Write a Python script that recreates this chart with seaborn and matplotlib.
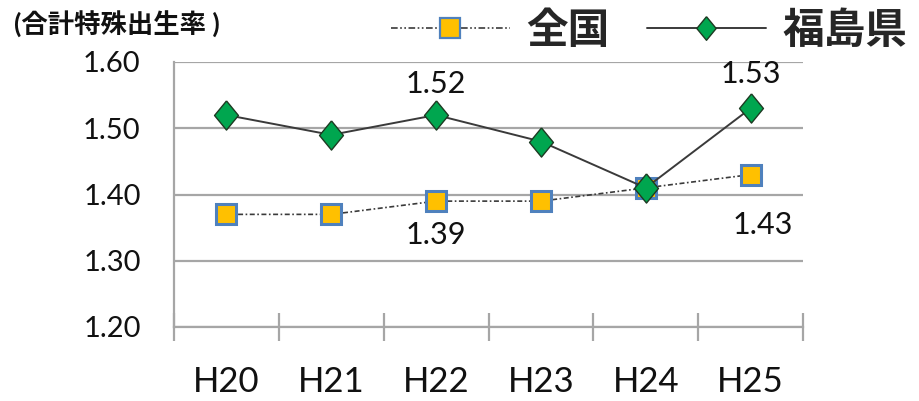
import numpy as np
import pandas as pd
import matplotlib
matplotlib.use("Agg")
import matplotlib.pyplot as plt
from matplotlib.lines import Line2D
import seaborn as sns

# Total fertility rate, national vs. Fukushima prefecture
years = ["H20", "H21", "H22", "H23", "H24", "H25"]
national = [1.37, 1.37, 1.39, 1.39, 1.41, 1.43]
fukushima = [1.52, 1.49, 1.52, 1.48, 1.41, 1.53]
y_ticks = [1.20, 1.30, 1.40, 1.50, 1.60]

sns.set_theme(style="white")
plt.rcParams["font.family"] = ["Lato", "Noto Sans CJK JP", "DejaVu Sans"]

df = pd.DataFrame({"pos": np.arange(len(years)), "year": years,
                   "全国": national, "福島県": fukushima})

fig = plt.figure(figsize=(9.19, 4.01), dpi=100)
ax = fig.add_axes([174 / 919, 1 - 327 / 401, (803 - 174) / 919, (327 - 62) / 401])

grid_c = "#a6a6a6"
line_c = "#3a3a3a"
sq_face, sq_edge = "#FFC000", "#4F81BD"
dm_face, dm_edge = "#00A64F", "#1d3a22"
diamond = [(0, 1), (0.82, 0), (0, -1), (-0.82, 0), (0, 1)]

nat_style = dict(color=line_c, linewidth=1.2, linestyle=(0, (3, 1.5, 1, 1.5)),
                 marker="s", markersize=15, markerfacecolor=sq_face,
                 markeredgecolor=sq_edge, markeredgewidth=2.2)
fk_style = dict(color=line_c, linewidth=1.4, linestyle="-",
                marker=diamond, markersize=21, markerfacecolor=dm_face,
                markeredgecolor=dm_edge, markeredgewidth=1.0)

sns.lineplot(data=df, x="pos", y="全国", ax=ax, zorder=3, clip_on=False, **nat_style)
sns.lineplot(data=df, x="pos", y="福島県", ax=ax, zorder=4, clip_on=False, **fk_style)

ax.set_xlim(-0.5, len(years) - 0.5)
ax.set_ylim(1.20, 1.60)
ax.set_yticks(y_ticks)
ax.set_yticklabels([f"{v:.2f}" for v in y_ticks], fontsize=21)
ax.set_xticks(df["pos"])
ax.set_xticklabels(years, fontsize=25)
ax.set_xticks(np.arange(-0.5, len(years)), minor=True)
ax.tick_params(axis="x", which="major", bottom=False, length=0, pad=28,
               labelcolor="#111111")
ax.tick_params(axis="x", which="minor", bottom=True, length=20, width=1.6,
               direction="inout", color=grid_c)
ax.tick_params(axis="y", length=0, pad=24, labelcolor="#111111")
ax.set_xlabel("")
ax.set_ylabel("")

ax.grid(axis="y", color=grid_c, linewidth=1.6, zorder=0)
ax.set_axisbelow(True)
for side in ("top", "right"):
    ax.spines[side].set_visible(False)
for side in ("left", "bottom"):
    ax.spines[side].set_color(grid_c)
    ax.spines[side].set_linewidth(1.6)

# value labels
lab_kw = dict(fontsize=22, ha="center", color="#111111")
ax.annotate(f"{fukushima[2]:.2f}", (2, fukushima[2]), xytext=(0, 12),
            textcoords="offset points", va="bottom", **lab_kw)
ax.annotate(f"{fukushima[5]:.2f}", (5, fukushima[5]), xytext=(0, 15),
            textcoords="offset points", va="bottom", **lab_kw)
ax.annotate(f"{national[2]:.2f}", (2, national[2]), xytext=(0, -14),
            textcoords="offset points", va="top", **lab_kw)
ax.annotate(f"{national[5]:.2f}", (5, national[5]), xytext=(9, -26),
            textcoords="offset points", va="top", **lab_kw)

# legend
leg_nat = {**nat_style, "markersize": 14, "markeredgewidth": 1.6,
           "linestyle": (0, (4, 1.5, 1, 1.5, 1, 1.5))}
leg_fk = {**fk_style, "markersize": 17}
handles = [Line2D([], [], **leg_nat), Line2D([], [], **leg_fk)]
fig.legend(handles, ["全国", "福島県"], loc="center right",
           bbox_to_anchor=(924 / 919, 1 - 30 / 401), ncol=2, frameon=False,
           prop={"size": 30, "weight": "bold"}, handlelength=2.85,
           handletextpad=0.4, columnspacing=0.9, borderaxespad=0)

fig.text(14 / 919, 1 - 24 / 401, "(合計特殊出生率 )", fontsize=19,
         fontweight="bold", va="center", ha="left", color="#111111")

fig.savefig("out.png", dpi=100)
